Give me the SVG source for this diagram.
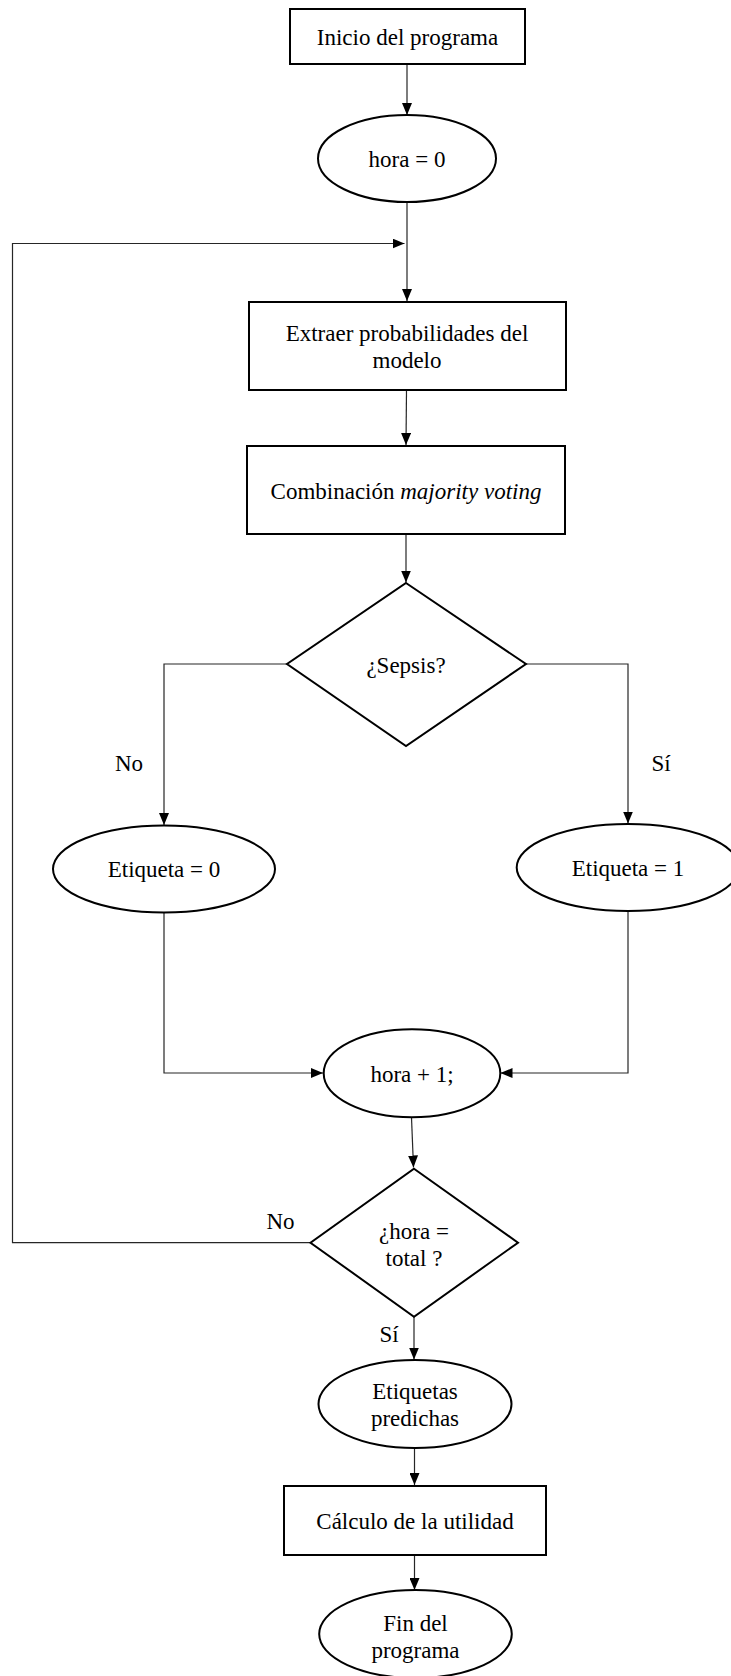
<svg xmlns="http://www.w3.org/2000/svg" width="731" height="1676" viewBox="0 0 731 1676">
  <style>
    .shape { fill: #ffffff; stroke: #000000; stroke-width: 2; }
    .conn { fill: none; stroke: #262626; stroke-width: 1.2; }
    .lbl { font-family: "Liberation Serif", "Times New Roman", serif; font-size: 23px; fill: #000000; text-anchor: middle; }
  </style>
  <defs>
    <marker id="arrow" markerUnits="userSpaceOnUse" markerWidth="12" markerHeight="10" refX="12" refY="5" orient="auto">
      <path d="M0,0 L12,5 L0,10 z" fill="#000000"/>
    </marker>
  </defs>

  <rect width="731" height="1676" fill="#ffffff"/>

  <!-- connectors -->
  <g id="connectors">
    <path class="conn" d="M407,64 L407,115" marker-end="url(#arrow)"/>
    <path class="conn" d="M407,202 L407,301" marker-end="url(#arrow)"/>
    <path class="conn" d="M310.5,1242.7 L12.5,1242.7 L12.5,243.5 L404.5,243.5" marker-end="url(#arrow)"/>
    <path class="conn" d="M406.5,390 L406,445" marker-end="url(#arrow)"/>
    <path class="conn" d="M406,534 L406,582.5" marker-end="url(#arrow)"/>
    <path class="conn" d="M287,664 L164,664 L164,825" marker-end="url(#arrow)"/>
    <path class="conn" d="M526,664 L628,664 L628,823.5" marker-end="url(#arrow)"/>
    <path class="conn" d="M164,912.5 L164,1073 L323,1073" marker-end="url(#arrow)"/>
    <path class="conn" d="M628,911 L628,1073 L500.5,1073" marker-end="url(#arrow)"/>
    <path class="conn" d="M411.5,1117.5 L413.5,1167.5" marker-end="url(#arrow)"/>
    <path class="conn" d="M414,1317 L414,1359.5" marker-end="url(#arrow)"/>
    <path class="conn" d="M414.5,1448 L414.5,1485" marker-end="url(#arrow)"/>
    <path class="conn" d="M414.5,1555.5 L414.5,1590" marker-end="url(#arrow)"/>
    <text class="lbl" x="129" y="770.5">No</text>
    <text class="lbl" x="661" y="770.5">Sí</text>
    <text class="lbl" x="280.5" y="1229">No</text>
    <text class="lbl" x="389" y="1342">Sí</text>
  </g>

  <g id="n_inicio">
    <rect class="shape" x="290" y="9" width="235" height="55"/>
    <text class="lbl" x="407.5" y="45">Inicio del programa</text>
  </g>

  <g id="n_hora0">
    <ellipse class="shape" cx="407" cy="158.5" rx="89" ry="43.5"/>
    <text class="lbl" x="407" y="167">hora = 0</text>
  </g>

  <g id="n_extraer">
    <rect class="shape" x="249" y="302" width="317" height="88"/>
    <text class="lbl" x="407" y="340.5">Extraer probabilidades del</text>
    <text class="lbl" x="407" y="368">modelo</text>
  </g>

  <g id="n_combinacion">
    <rect class="shape" x="247" y="446" width="318" height="88"/>
    <text class="lbl" x="406" y="499">Combinación <tspan font-style="italic">majority voting</tspan></text>
  </g>

  <g id="n_sepsis">
    <polygon class="shape" points="406,583 526,664 406,746 287,664"/>
    <text class="lbl" x="406" y="673">¿Sepsis?</text>
  </g>

  <g id="n_etiqueta0">
    <ellipse class="shape" cx="164" cy="869" rx="111" ry="43.5"/>
    <text class="lbl" x="164" y="877">Etiqueta = 0</text>
  </g>

  <g id="n_etiqueta1">
    <ellipse class="shape" cx="628" cy="867.5" rx="111.3" ry="43.5"/>
    <text class="lbl" x="628" y="876">Etiqueta = 1</text>
  </g>

  <g id="n_hora1">
    <ellipse class="shape" cx="412" cy="1073.3" rx="88.3" ry="44"/>
    <text class="lbl" x="412" y="1081.5">hora + 1;</text>
  </g>

  <g id="n_total">
    <polygon class="shape" points="414,1168.7 518,1242.7 414,1316.7 310.5,1242.7"/>
    <text class="lbl" x="414" y="1239">¿hora =</text>
    <text class="lbl" x="414" y="1266">total ?</text>
  </g>

  <g id="n_predichas">
    <ellipse class="shape" cx="415" cy="1404" rx="96.5" ry="44"/>
    <text class="lbl" x="415" y="1399">Etiquetas</text>
    <text class="lbl" x="415" y="1426">predichas</text>
  </g>

  <g id="n_calculo">
    <rect class="shape" x="284" y="1486" width="262" height="69"/>
    <text class="lbl" x="415" y="1529">Cálculo de la utilidad</text>
  </g>

  <g id="n_fin">
    <ellipse class="shape" cx="415.5" cy="1634" rx="96.3" ry="44"/>
    <text class="lbl" x="415.5" y="1630.5">Fin del</text>
    <text class="lbl" x="415.5" y="1658">programa</text>
  </g>
</svg>
